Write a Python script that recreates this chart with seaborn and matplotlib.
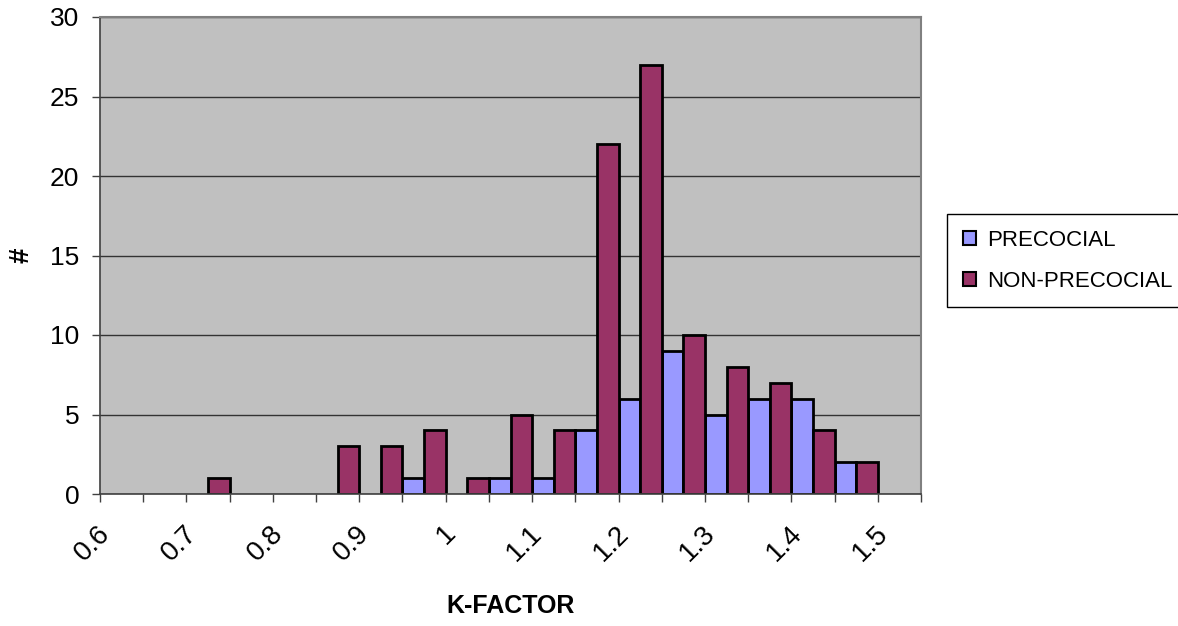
import matplotlib
matplotlib.use('Agg')
import matplotlib.pyplot as plt
import matplotlib.patches as mpatches
import matplotlib.transforms as mtransforms
import seaborn as sns
import numpy as np
import pandas as pd

# K-factor bins (categories), counts per group
k_factor = ['0.6', '0.65', '0.7', '0.75', '0.8', '0.85', '0.9', '0.95', '1', '1.05',
            '1.1', '1.15', '1.2', '1.25', '1.3', '1.35', '1.4', '1.45', '1.5']
precocial = [0, 0, 0, 0, 0, 0, 0, 1, 0, 1, 1, 4, 6, 9, 5, 6, 6, 2, 0]
non_precocial = [0, 0, 1, 0, 0, 3, 3, 4, 1, 5, 4, 22, 27, 10, 8, 7, 4, 2, 0]
groups = ['PRECOCIAL', 'NON-PRECOCIAL']
colors = {'PRECOCIAL': '#9999FF', 'NON-PRECOCIAL': '#993366'}
tick_labels = ['0.6', '0.7', '0.8', '0.9', '1', '1.1', '1.2', '1.3', '1.4', '1.5']

sns.set_style('white')
plt.rcParams['font.family'] = ['Liberation Sans', 'DejaVu Sans']
plt.rcParams['text.color'] = 'black'
plt.rcParams['xtick.color'] = 'black'
plt.rcParams['ytick.color'] = 'black'
plt.rcParams['axes.labelcolor'] = 'black'

df = pd.DataFrame({
    'K-FACTOR': k_factor * 2,
    'count': precocial + non_precocial,
    'group': [groups[0]] * len(k_factor) + [groups[1]] * len(k_factor),
})

fig = plt.figure(figsize=(11.78, 6.26), dpi=100)
ax = fig.add_axes([100 / 1178, 1 - 494 / 626, 821 / 1178, 477 / 626])
ax.set_facecolor('#C0C0C0')

sns.barplot(data=df, x='K-FACTOR', y='count', hue='group', order=k_factor,
            hue_order=groups, palette=colors, width=1, gap=0, saturation=1,
            edgecolor='black', linewidth=2, legend=False, ax=ax)

# excel does not draw empty bars
for p in ax.patches:
    if p.get_height() == 0:
        p.set_visible(False)

ax.set_xlim(-0.5, len(k_factor) - 0.5)
ax.set_ylim(0, 30)
ax.set_yticks(np.arange(0, 31, 5))
ax.tick_params(axis='y', labelsize=19, length=6, width=1, color='#404040', pad=9, direction='out', left=True)
ax.set_axisbelow(True)
ax.yaxis.grid(True, color='#333333', linewidth=1)

# labels every other category, tick marks between categories
ax.set_xticks(np.arange(0, len(k_factor), 2))
ax.set_xticklabels(tick_labels, rotation=45, ha='right', va='top', fontsize=20)
ax.set_xticks(np.arange(-0.5, len(k_factor), 1), minor=True)
ax.tick_params(axis='x', which='major', length=0, pad=19)
ax.tick_params(axis='x', which='minor', length=6, width=1, color='#404040', direction='out', bottom=True)
shift = mtransforms.ScaledTranslation(-6 / 100, 0, fig.dpi_scale_trans)
for lab in ax.get_xticklabels():
    lab.set_transform(lab.get_transform() + shift)

for side in ['left', 'bottom']:
    ax.spines[side].set_color('#404040')
    ax.spines[side].set_linewidth(1.2)
for side in ['top', 'right']:
    ax.spines[side].set_color('#808080')
    ax.spines[side].set_linewidth(1.5)

ax.set_xlabel('K-FACTOR', fontsize=18, fontweight='bold')
ax.xaxis.set_label_coords(0.5, -0.21)
ax.set_ylabel('#', fontsize=20, fontweight='bold')
ax.yaxis.set_label_coords(-0.08, 0.5)

handles = [mpatches.Patch(facecolor=colors[g], edgecolor='black', linewidth=1.5) for g in groups]
leg = fig.legend(handles, groups, loc='upper left', bbox_to_anchor=(947 / 1178, 1 - 214 / 626),
                 frameon=True, fancybox=False, edgecolor='black', framealpha=1, fontsize=16,
                 handlelength=0.6, handleheight=0.6, handletextpad=0.5, borderpad=0.7,
                 labelspacing=0.9, borderaxespad=0)
leg.get_frame().set_linewidth(1)

plt.savefig('out.png', dpi=100)
